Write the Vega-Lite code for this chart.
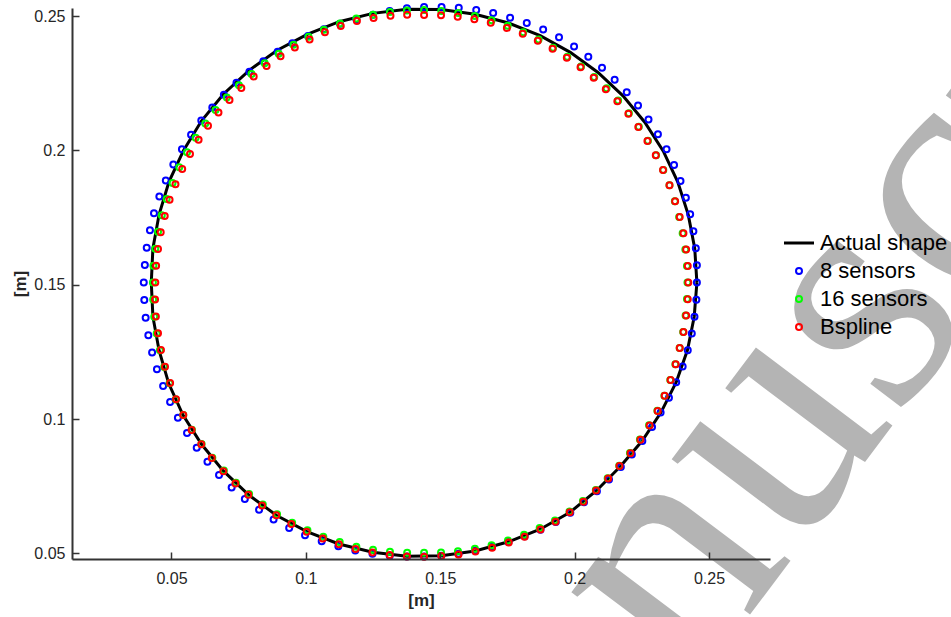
{
"$schema":"https://vega.github.io/schema/vega-lite/v6.json",
"width":698,"height":551,
"autosize":{"type":"none"},
"padding":{"left":72,"top":8,"right":181,"bottom":58},
"background":"white",
"config":{"view":{"stroke":null},"font":"Liberation Sans"},
"datasets":{
"wm":[{"label":"Manuscript","x":0.2850,"y":0.1165}],
"shape":[
{"i":0,"x":0.2455,"y":0.1508},{"i":1,"x":0.2447,"y":0.1635},{"i":2,"x":0.2423,"y":0.1760},{"i":3,"x":0.2384,"y":0.1882},{"i":4,"x":0.2330,"y":0.1997},{"i":5,"x":0.2261,"y":0.2105},{"i":6,"x":0.2180,"y":0.2203},{"i":7,"x":0.2087,"y":0.2290},{"i":8,"x":0.1984,"y":0.2365},{"i":9,"x":0.1872,"y":0.2427},{"i":10,"x":0.1754,"y":0.2474},{"i":11,"x":0.1630,"y":0.2507},{"i":12,"x":0.1504,"y":0.2524},{"i":13,"x":0.1376,"y":0.2525},{"i":14,"x":0.1249,"y":0.2510},{"i":15,"x":0.1124,"y":0.2479},{"i":16,"x":0.1005,"y":0.2432},{"i":17,"x":0.0892,"y":0.2372},{"i":18,"x":0.0788,"y":0.2297},{"i":19,"x":0.0693,"y":0.2209},{"i":20,"x":0.0612,"y":0.2110},{"i":21,"x":0.0545,"y":0.2000},{"i":22,"x":0.0491,"y":0.1884},{"i":23,"x":0.0454,"y":0.1761},{"i":24,"x":0.0431,"y":0.1635},{"i":25,"x":0.0425,"y":0.1508},{"i":26,"x":0.0431,"y":0.1381},{"i":27,"x":0.0454,"y":0.1255},{"i":28,"x":0.0490,"y":0.1132},{"i":29,"x":0.0543,"y":0.1015},{"i":30,"x":0.0612,"y":0.0906},{"i":31,"x":0.0693,"y":0.0807},{"i":32,"x":0.0787,"y":0.0718},{"i":33,"x":0.0890,"y":0.0642},{"i":34,"x":0.1004,"y":0.0581},{"i":35,"x":0.1123,"y":0.0535},{"i":36,"x":0.1249,"y":0.0504},{"i":37,"x":0.1376,"y":0.0489},{"i":38,"x":0.1504,"y":0.0491},{"i":39,"x":0.1630,"y":0.0509},{"i":40,"x":0.1754,"y":0.0543},{"i":41,"x":0.1872,"y":0.0590},{"i":42,"x":0.1983,"y":0.0653},{"i":43,"x":0.2081,"y":0.0733},{"i":44,"x":0.2170,"y":0.0823},{"i":45,"x":0.2251,"y":0.0918},{"i":46,"x":0.2321,"y":0.1024},{"i":47,"x":0.2378,"y":0.1137},{"i":48,"x":0.2420,"y":0.1257},{"i":49,"x":0.2445,"y":0.1381},{"i":50,"x":0.2455,"y":0.1508}
],
"recon":[
{"s":"8 sensors","x":0.2455,"y":0.1508},{"s":"8 sensors","x":0.2455,"y":0.1572},{"s":"8 sensors","x":0.2451,"y":0.1636},{"s":"8 sensors","x":0.2442,"y":0.1699},{"s":"8 sensors","x":0.2430,"y":0.1762},{"s":"8 sensors","x":0.2414,"y":0.1824},{"s":"8 sensors","x":0.2394,"y":0.1886},{"s":"8 sensors","x":0.2370,"y":0.1946},{"s":"8 sensors","x":0.2342,"y":0.2004},{"s":"8 sensors","x":0.2310,"y":0.2060},
{"s":"8 sensors","x":0.2275,"y":0.2115},{"s":"8 sensors","x":0.2236,"y":0.2167},{"s":"8 sensors","x":0.2194,"y":0.2216},{"s":"8 sensors","x":0.2149,"y":0.2263},{"s":"8 sensors","x":0.2102,"y":0.2308},{"s":"8 sensors","x":0.2051,"y":0.2349},{"s":"8 sensors","x":0.1998,"y":0.2387},{"s":"8 sensors","x":0.1942,"y":0.2421},{"s":"8 sensors","x":0.1883,"y":0.2450},{"s":"8 sensors","x":0.1822,"y":0.2474},
{"s":"8 sensors","x":0.1760,"y":0.2494},{"s":"8 sensors","x":0.1697,"y":0.2511},{"s":"8 sensors","x":0.1634,"y":0.2523},{"s":"8 sensors","x":0.1569,"y":0.2531},{"s":"8 sensors","x":0.1505,"y":0.2534},{"s":"8 sensors","x":0.1440,"y":0.2534},{"s":"8 sensors","x":0.1376,"y":0.2529},{"s":"8 sensors","x":0.1312,"y":0.2519},{"s":"8 sensors","x":0.1250,"y":0.2505},{"s":"8 sensors","x":0.1188,"y":0.2488},
{"s":"8 sensors","x":0.1127,"y":0.2471},{"s":"8 sensors","x":0.1067,"y":0.2451},{"s":"8 sensors","x":0.1008,"y":0.2426},{"s":"8 sensors","x":0.0950,"y":0.2399},{"s":"8 sensors","x":0.0895,"y":0.2367},{"s":"8 sensors","x":0.0842,"y":0.2332},{"s":"8 sensors","x":0.0790,"y":0.2293},{"s":"8 sensors","x":0.0742,"y":0.2252},{"s":"8 sensors","x":0.0695,"y":0.2207},{"s":"8 sensors","x":0.0652,"y":0.2160},
{"s":"8 sensors","x":0.0611,"y":0.2111},{"s":"8 sensors","x":0.0573,"y":0.2058},{"s":"8 sensors","x":0.0539,"y":0.2004},{"s":"8 sensors","x":0.0507,"y":0.1947},{"s":"8 sensors","x":0.0479,"y":0.1888},{"s":"8 sensors","x":0.0455,"y":0.1828},{"s":"8 sensors","x":0.0435,"y":0.1766},{"s":"8 sensors","x":0.0420,"y":0.1703},{"s":"8 sensors","x":0.0408,"y":0.1638},{"s":"8 sensors","x":0.0401,"y":0.1573},
{"s":"8 sensors","x":0.0397,"y":0.1508},{"s":"8 sensors","x":0.0399,"y":0.1443},{"s":"8 sensors","x":0.0404,"y":0.1377},{"s":"8 sensors","x":0.0414,"y":0.1312},{"s":"8 sensors","x":0.0428,"y":0.1248},{"s":"8 sensors","x":0.0446,"y":0.1185},{"s":"8 sensors","x":0.0469,"y":0.1123},{"s":"8 sensors","x":0.0495,"y":0.1063},{"s":"8 sensors","x":0.0524,"y":0.1005},{"s":"8 sensors","x":0.0558,"y":0.0948},
{"s":"8 sensors","x":0.0594,"y":0.0893},{"s":"8 sensors","x":0.0634,"y":0.0841},{"s":"8 sensors","x":0.0677,"y":0.0792},{"s":"8 sensors","x":0.0724,"y":0.0745},{"s":"8 sensors","x":0.0773,"y":0.0702},{"s":"8 sensors","x":0.0826,"y":0.0662},{"s":"8 sensors","x":0.0880,"y":0.0626},{"s":"8 sensors","x":0.0938,"y":0.0594},{"s":"8 sensors","x":0.0997,"y":0.0567},{"s":"8 sensors","x":0.1059,"y":0.0545},
{"s":"8 sensors","x":0.1121,"y":0.0526},{"s":"8 sensors","x":0.1184,"y":0.0511},{"s":"8 sensors","x":0.1248,"y":0.0499},{"s":"8 sensors","x":0.1312,"y":0.0491},{"s":"8 sensors","x":0.1376,"y":0.0488},{"s":"8 sensors","x":0.1440,"y":0.0488},{"s":"8 sensors","x":0.1504,"y":0.0491},{"s":"8 sensors","x":0.1568,"y":0.0499},{"s":"8 sensors","x":0.1630,"y":0.0510},{"s":"8 sensors","x":0.1693,"y":0.0525},
{"s":"8 sensors","x":0.1754,"y":0.0542},{"s":"8 sensors","x":0.1814,"y":0.0564},{"s":"8 sensors","x":0.1873,"y":0.0588},{"s":"8 sensors","x":0.1930,"y":0.0617},{"s":"8 sensors","x":0.1984,"y":0.0651},{"s":"8 sensors","x":0.2035,"y":0.0690},{"s":"8 sensors","x":0.2083,"y":0.0731},{"s":"8 sensors","x":0.2128,"y":0.0775},{"s":"8 sensors","x":0.2172,"y":0.0821},{"s":"8 sensors","x":0.2213,"y":0.0868},
{"s":"8 sensors","x":0.2252,"y":0.0918},{"s":"8 sensors","x":0.2288,"y":0.0970},{"s":"8 sensors","x":0.2320,"y":0.1024},{"s":"8 sensors","x":0.2351,"y":0.1079},{"s":"8 sensors","x":0.2378,"y":0.1137},{"s":"8 sensors","x":0.2402,"y":0.1196},{"s":"8 sensors","x":0.2421,"y":0.1256},{"s":"8 sensors","x":0.2436,"y":0.1318},{"s":"8 sensors","x":0.2446,"y":0.1381},{"s":"8 sensors","x":0.2453,"y":0.1444},
{"s":"16 sensors","x":0.2420,"y":0.1508},{"s":"16 sensors","x":0.2418,"y":0.1570},{"s":"16 sensors","x":0.2412,"y":0.1631},{"s":"16 sensors","x":0.2402,"y":0.1692},{"s":"16 sensors","x":0.2389,"y":0.1752},{"s":"16 sensors","x":0.2373,"y":0.1811},{"s":"16 sensors","x":0.2353,"y":0.1870},{"s":"16 sensors","x":0.2330,"y":0.1927},{"s":"16 sensors","x":0.2303,"y":0.1982},{"s":"16 sensors","x":0.2273,"y":0.2036},
{"s":"16 sensors","x":0.2239,"y":0.2088},{"s":"16 sensors","x":0.2202,"y":0.2138},{"s":"16 sensors","x":0.2162,"y":0.2186},{"s":"16 sensors","x":0.2119,"y":0.2231},{"s":"16 sensors","x":0.2073,"y":0.2273},{"s":"16 sensors","x":0.2024,"y":0.2312},{"s":"16 sensors","x":0.1973,"y":0.2349},{"s":"16 sensors","x":0.1920,"y":0.2382},{"s":"16 sensors","x":0.1866,"y":0.2413},{"s":"16 sensors","x":0.1809,"y":0.2440},
{"s":"16 sensors","x":0.1751,"y":0.2464},{"s":"16 sensors","x":0.1691,"y":0.2484},{"s":"16 sensors","x":0.1629,"y":0.2500},{"s":"16 sensors","x":0.1567,"y":0.2511},{"s":"16 sensors","x":0.1504,"y":0.2519},{"s":"16 sensors","x":0.1440,"y":0.2523},{"s":"16 sensors","x":0.1376,"y":0.2521},{"s":"16 sensors","x":0.1313,"y":0.2515},{"s":"16 sensors","x":0.1250,"y":0.2505},{"s":"16 sensors","x":0.1188,"y":0.2491},
{"s":"16 sensors","x":0.1127,"y":0.2472},{"s":"16 sensors","x":0.1067,"y":0.2449},{"s":"16 sensors","x":0.1010,"y":0.2423},{"s":"16 sensors","x":0.0954,"y":0.2393},{"s":"16 sensors","x":0.0899,"y":0.2360},{"s":"16 sensors","x":0.0847,"y":0.2324},{"s":"16 sensors","x":0.0798,"y":0.2284},{"s":"16 sensors","x":0.0751,"y":0.2242},{"s":"16 sensors","x":0.0706,"y":0.2197},{"s":"16 sensors","x":0.0664,"y":0.2150},
{"s":"16 sensors","x":0.0626,"y":0.2100},{"s":"16 sensors","x":0.0590,"y":0.2047},{"s":"16 sensors","x":0.0558,"y":0.1993},{"s":"16 sensors","x":0.0529,"y":0.1937},{"s":"16 sensors","x":0.0504,"y":0.1879},{"s":"16 sensors","x":0.0482,"y":0.1819},{"s":"16 sensors","x":0.0464,"y":0.1759},{"s":"16 sensors","x":0.0450,"y":0.1697},{"s":"16 sensors","x":0.0440,"y":0.1634},{"s":"16 sensors","x":0.0433,"y":0.1571},
{"s":"16 sensors","x":0.0431,"y":0.1508},{"s":"16 sensors","x":0.0432,"y":0.1445},{"s":"16 sensors","x":0.0436,"y":0.1381},{"s":"16 sensors","x":0.0445,"y":0.1318},{"s":"16 sensors","x":0.0457,"y":0.1256},{"s":"16 sensors","x":0.0473,"y":0.1194},{"s":"16 sensors","x":0.0493,"y":0.1133},{"s":"16 sensors","x":0.0516,"y":0.1073},{"s":"16 sensors","x":0.0544,"y":0.1015},{"s":"16 sensors","x":0.0576,"y":0.0960},
{"s":"16 sensors","x":0.0612,"y":0.0907},{"s":"16 sensors","x":0.0652,"y":0.0856},{"s":"16 sensors","x":0.0695,"y":0.0808},{"s":"16 sensors","x":0.0740,"y":0.0763},{"s":"16 sensors","x":0.0789,"y":0.0721},{"s":"16 sensors","x":0.0840,"y":0.0682},{"s":"16 sensors","x":0.0893,"y":0.0646},{"s":"16 sensors","x":0.0949,"y":0.0614},{"s":"16 sensors","x":0.1006,"y":0.0586},{"s":"16 sensors","x":0.1065,"y":0.0562},
{"s":"16 sensors","x":0.1126,"y":0.0542},{"s":"16 sensors","x":0.1188,"y":0.0525},{"s":"16 sensors","x":0.1250,"y":0.0513},{"s":"16 sensors","x":0.1313,"y":0.0506},{"s":"16 sensors","x":0.1377,"y":0.0502},{"s":"16 sensors","x":0.1440,"y":0.0502},{"s":"16 sensors","x":0.1503,"y":0.0503},{"s":"16 sensors","x":0.1566,"y":0.0508},{"s":"16 sensors","x":0.1629,"y":0.0517},{"s":"16 sensors","x":0.1691,"y":0.0530},
{"s":"16 sensors","x":0.1752,"y":0.0548},{"s":"16 sensors","x":0.1812,"y":0.0569},{"s":"16 sensors","x":0.1870,"y":0.0594},{"s":"16 sensors","x":0.1927,"y":0.0622},{"s":"16 sensors","x":0.1981,"y":0.0656},{"s":"16 sensors","x":0.2031,"y":0.0695},{"s":"16 sensors","x":0.2079,"y":0.0736},{"s":"16 sensors","x":0.2123,"y":0.0780},{"s":"16 sensors","x":0.2166,"y":0.0826},{"s":"16 sensors","x":0.2206,"y":0.0874},
{"s":"16 sensors","x":0.2243,"y":0.0924},{"s":"16 sensors","x":0.2277,"y":0.0977},{"s":"16 sensors","x":0.2308,"y":0.1031},{"s":"16 sensors","x":0.2334,"y":0.1087},{"s":"16 sensors","x":0.2356,"y":0.1145},{"s":"16 sensors","x":0.2375,"y":0.1204},{"s":"16 sensors","x":0.2391,"y":0.1264},{"s":"16 sensors","x":0.2404,"y":0.1324},{"s":"16 sensors","x":0.2413,"y":0.1385},{"s":"16 sensors","x":0.2418,"y":0.1447},
{"s":"Bspline","x":0.2423,"y":0.1508},{"s":"Bspline","x":0.2421,"y":0.1570},{"s":"Bspline","x":0.2415,"y":0.1631},{"s":"Bspline","x":0.2405,"y":0.1692},{"s":"Bspline","x":0.2391,"y":0.1752},{"s":"Bspline","x":0.2374,"y":0.1811},{"s":"Bspline","x":0.2353,"y":0.1870},{"s":"Bspline","x":0.2329,"y":0.1927},{"s":"Bspline","x":0.2302,"y":0.1982},{"s":"Bspline","x":0.2271,"y":0.2035},
{"s":"Bspline","x":0.2237,"y":0.2087},{"s":"Bspline","x":0.2200,"y":0.2136},{"s":"Bspline","x":0.2159,"y":0.2183},{"s":"Bspline","x":0.2116,"y":0.2228},{"s":"Bspline","x":0.2071,"y":0.2270},{"s":"Bspline","x":0.2022,"y":0.2309},{"s":"Bspline","x":0.1971,"y":0.2345},{"s":"Bspline","x":0.1918,"y":0.2378},{"s":"Bspline","x":0.1863,"y":0.2408},{"s":"Bspline","x":0.1807,"y":0.2434},
{"s":"Bspline","x":0.1748,"y":0.2456},{"s":"Bspline","x":0.1688,"y":0.2475},{"s":"Bspline","x":0.1627,"y":0.2488},{"s":"Bspline","x":0.1565,"y":0.2497},{"s":"Bspline","x":0.1503,"y":0.2503},{"s":"Bspline","x":0.1440,"y":0.2504},{"s":"Bspline","x":0.1377,"y":0.2505},{"s":"Bspline","x":0.1315,"y":0.2501},{"s":"Bspline","x":0.1252,"y":0.2493},{"s":"Bspline","x":0.1190,"y":0.2482},
{"s":"Bspline","x":0.1130,"y":0.2463},{"s":"Bspline","x":0.1071,"y":0.2440},{"s":"Bspline","x":0.1014,"y":0.2413},{"s":"Bspline","x":0.0959,"y":0.2383},{"s":"Bspline","x":0.0906,"y":0.2350},{"s":"Bspline","x":0.0854,"y":0.2314},{"s":"Bspline","x":0.0806,"y":0.2275},{"s":"Bspline","x":0.0760,"y":0.2232},{"s":"Bspline","x":0.0716,"y":0.2188},{"s":"Bspline","x":0.0675,"y":0.2141},
{"s":"Bspline","x":0.0636,"y":0.2092},{"s":"Bspline","x":0.0601,"y":0.2040},{"s":"Bspline","x":0.0569,"y":0.1987},{"s":"Bspline","x":0.0540,"y":0.1931},{"s":"Bspline","x":0.0515,"y":0.1874},{"s":"Bspline","x":0.0493,"y":0.1816},{"s":"Bspline","x":0.0475,"y":0.1756},{"s":"Bspline","x":0.0460,"y":0.1695},{"s":"Bspline","x":0.0450,"y":0.1633},{"s":"Bspline","x":0.0443,"y":0.1571},
{"s":"Bspline","x":0.0440,"y":0.1508},{"s":"Bspline","x":0.0439,"y":0.1445},{"s":"Bspline","x":0.0442,"y":0.1382},{"s":"Bspline","x":0.0450,"y":0.1319},{"s":"Bspline","x":0.0461,"y":0.1257},{"s":"Bspline","x":0.0476,"y":0.1195},{"s":"Bspline","x":0.0495,"y":0.1134},{"s":"Bspline","x":0.0517,"y":0.1074},{"s":"Bspline","x":0.0544,"y":0.1015},{"s":"Bspline","x":0.0575,"y":0.0959},
{"s":"Bspline","x":0.0611,"y":0.0906},{"s":"Bspline","x":0.0650,"y":0.0855},{"s":"Bspline","x":0.0693,"y":0.0806},{"s":"Bspline","x":0.0738,"y":0.0760},{"s":"Bspline","x":0.0786,"y":0.0718},{"s":"Bspline","x":0.0837,"y":0.0678},{"s":"Bspline","x":0.0890,"y":0.0642},{"s":"Bspline","x":0.0946,"y":0.0609},{"s":"Bspline","x":0.1003,"y":0.0580},{"s":"Bspline","x":0.1063,"y":0.0555},
{"s":"Bspline","x":0.1123,"y":0.0534},{"s":"Bspline","x":0.1185,"y":0.0516},{"s":"Bspline","x":0.1248,"y":0.0503},{"s":"Bspline","x":0.1312,"y":0.0494},{"s":"Bspline","x":0.1376,"y":0.0488},{"s":"Bspline","x":0.1440,"y":0.0487},{"s":"Bspline","x":0.1504,"y":0.0490},{"s":"Bspline","x":0.1568,"y":0.0496},{"s":"Bspline","x":0.1631,"y":0.0507},{"s":"Bspline","x":0.1693,"y":0.0521},
{"s":"Bspline","x":0.1755,"y":0.0540},{"s":"Bspline","x":0.1814,"y":0.0562},{"s":"Bspline","x":0.1873,"y":0.0589},{"s":"Bspline","x":0.1929,"y":0.0618},{"s":"Bspline","x":0.1982,"y":0.0653},{"s":"Bspline","x":0.2033,"y":0.0692},{"s":"Bspline","x":0.2080,"y":0.0734},{"s":"Bspline","x":0.2125,"y":0.0779},{"s":"Bspline","x":0.2167,"y":0.0825},{"s":"Bspline","x":0.2208,"y":0.0873},
{"s":"Bspline","x":0.2245,"y":0.0923},{"s":"Bspline","x":0.2279,"y":0.0976},{"s":"Bspline","x":0.2309,"y":0.1030},{"s":"Bspline","x":0.2335,"y":0.1087},{"s":"Bspline","x":0.2357,"y":0.1145},{"s":"Bspline","x":0.2376,"y":0.1204},{"s":"Bspline","x":0.2391,"y":0.1264},{"s":"Bspline","x":0.2405,"y":0.1324},{"s":"Bspline","x":0.2415,"y":0.1385},{"s":"Bspline","x":0.2421,"y":0.1446}
]},
"encoding":{
"x":{"field":"x","type":"quantitative","scale":{"domain":[0.013,0.2727],"nice":false,"zero":false},
 "axis":{"zindex":1,"values":[0.05,0.1,0.15,0.2,0.25],"format":"~g","grid":false,"title":"[m]","domainColor":"#333333","domainWidth":2,"tickColor":"#333333","tickWidth":1.5,"tickSize":-7,"labelFont":"Liberation Sans","labelFontSize":16,"labelColor":"#262626","labelPadding":18,"labelFlush":false,"labelOverlap":false,"titleFont":"Liberation Sans","titleFontSize":17,"titleFontWeight":"bold","titleColor":"#262626","titlePadding":6}},
"y":{"field":"y","type":"quantitative","scale":{"domain":[0.0479,0.253],"nice":false,"zero":false},
 "axis":{"zindex":1,"values":[0.05,0.1,0.15,0.2,0.25],"format":"~g","grid":false,"title":"[m]","domainColor":"#333333","domainWidth":2,"tickColor":"#333333","tickWidth":1.5,"tickSize":-7,"labelFont":"Liberation Sans","labelFontSize":16,"labelColor":"#262626","labelPadding":14,"labelFlush":false,"labelOverlap":false,"titleFont":"Liberation Sans","titleFontSize":17,"titleFontWeight":"bold","titleColor":"#262626","titlePadding":4}}
},
"layer":[
{"data":{"name":"wm"},"mark":{"type":"text","font":"Liberation Serif","fontSize":340,"angle":-53,"color":"#b4b4b4","align":"center","baseline":"middle"},"encoding":{"text":{"field":"label"}}},
{"data":{"name":"shape"},"transform":[{"calculate":"'Actual shape'","as":"s"}],"mark":{"type":"line","strokeWidth":3},
 "encoding":{"order":{"field":"i","type":"quantitative"},
  "color":{"field":"s","type":"nominal","scale":{"domain":["Actual shape","8 sensors","16 sensors","Bspline"],"range":["#000000","#0000ff","#00ff00","#ff0000"]},
   "legend":{"orient":"none","legendX":716,"legendY":224,"direction":"vertical","title":null,"symbolSize":900,"rowPadding":6,"padding":0,"labelFont":"Liberation Sans","labelFontSize":22,"labelColor":"#000000","labelOffset":10,"symbolStrokeWidth":2,
    "encode":{"symbols":{"update":{"shape":{"signal":"datum.value === 'Actual shape' ? 'stroke' : 'circle'"},"size":{"signal":"datum.value === 'Actual shape' ? 900 : 36"},"strokeWidth":{"signal":"datum.value === 'Actual shape' ? 3 : 2"},"fill":{"value":"transparent"}}}}}}}},
{"data":{"name":"recon"},"mark":{"type":"point","shape":"circle","filled":false,"size":36,"strokeWidth":2,"opacity":1},
 "encoding":{
  "color":{"field":"s","type":"nominal","scale":{"domain":["Actual shape","8 sensors","16 sensors","Bspline"],"range":["#000000","#0000ff","#00ff00","#ff0000"]},
   "legend":{"orient":"none","legendX":716,"legendY":224,"direction":"vertical","title":null,"symbolSize":900,"rowPadding":6,"padding":0,"labelFont":"Liberation Sans","labelFontSize":22,"labelColor":"#000000","labelOffset":10,"symbolStrokeWidth":2,
    "encode":{"symbols":{"update":{"shape":{"signal":"datum.value === 'Actual shape' ? 'stroke' : 'circle'"},"size":{"signal":"datum.value === 'Actual shape' ? 900 : 36"},"strokeWidth":{"signal":"datum.value === 'Actual shape' ? 3 : 2"},"fill":{"value":"transparent"}}}}}}}}
]
}
